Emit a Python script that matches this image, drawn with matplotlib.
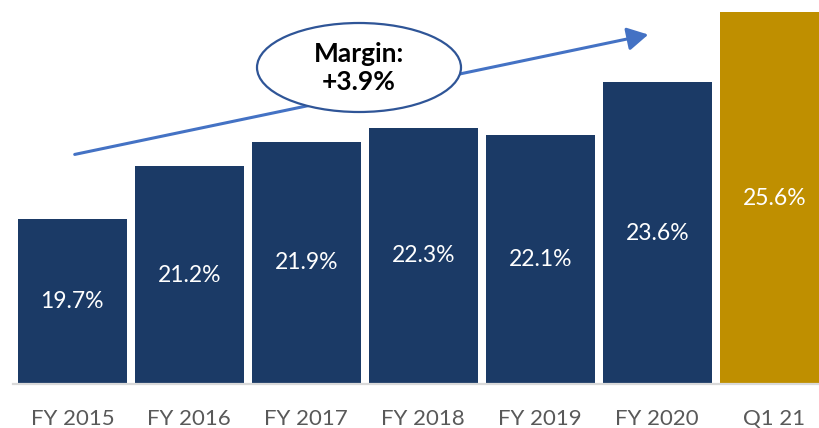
import matplotlib
matplotlib.use("Agg")
import matplotlib.pyplot as plt
from matplotlib.patches import Ellipse, FancyArrowPatch

categories = ["FY 2015", "FY 2016", "FY 2017", "FY 2018", "FY 2019", "FY 2020", "Q1 21"]
values = [19.7, 21.2, 21.9, 22.3, 22.1, 23.6, 25.6]
labels = ["19.7%", "21.2%", "21.9%", "22.3%", "22.1%", "23.6%", "25.6%"]
colors = ["#1B3A66"] * 6 + ["#BF8F00"]
ymin = 15.0

W, H = 819, 428
fig = plt.figure(figsize=(W / 100, H / 100), dpi=100)
plt.rcParams['font.family'] = ['Lato', 'DejaVu Sans']

ax = fig.add_axes([13 / W, (H - 384) / H, (W - 13) / W, 384 / H])
x = list(range(len(categories)))
bars = ax.bar(x, [v - ymin for v in values], bottom=ymin, width=0.935, color=colors, zorder=2)
ax.set_xlim(-0.507, 6.382)
ax.set_ylim(ymin, 25.943)

for xi, v, lab in zip(x, values, labels):
    ax.text(xi, (ymin + v) / 2, lab, ha="center", va="center", color="white", fontsize=16.5, zorder=3)

for s in ["top", "right", "left"]:
    ax.spines[s].set_visible(False)
ax.spines["bottom"].set_color("#D9D9D9")
ax.spines["bottom"].set_linewidth(1.6)
ax.spines["bottom"].set_zorder(4)
ax.set_yticks([])
ax.set_xticks(x)
ax.set_xticklabels(categories, fontsize=16, color="#595959")
ax.tick_params(axis="x", length=0, pad=18)


def fp(px, py):
    return (px / W, 1 - py / H)

arrow = FancyArrowPatch(fp(72, 155), fp(651, 34), transform=fig.transFigure,
                        arrowstyle="-|>,head_length=9,head_width=5", mutation_scale=1.4,
                        color="#4472C4", linewidth=2.2, zorder=5)
fig.patches.append(arrow)

cx, cy = fp(359, 67.5)
ell = Ellipse((cx, cy), 204 / W, 89 / H, transform=fig.transFigure,
              facecolor="white", edgecolor="#2F5597", linewidth=1.6, zorder=6)
fig.patches.append(ell)
fig.text(cx, cy, "Margin:\n+3.9%", ha="center", va="center", fontsize=19,
         fontweight="bold", color="black", linespacing=1.2, zorder=7)

fig.savefig("out.png", dpi=100)
